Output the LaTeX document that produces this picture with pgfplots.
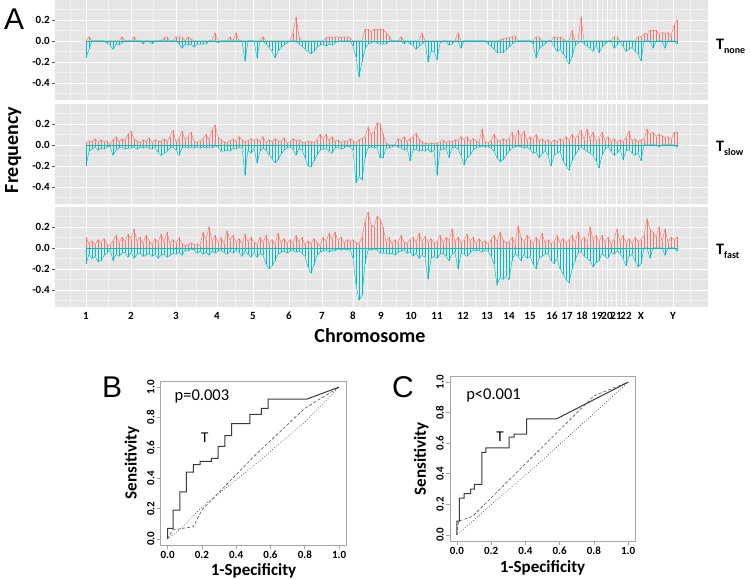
\documentclass[border=0pt]{standalone}
\usepackage{fontspec}
\setmainfont{Carlito}
\newfontfamily\arialfont{Liberation Sans}
\usepackage{pgfplots}
\usepackage{pgfplotstable}
\pgfplotsset{compat=1.18}

\definecolor{ggred}{HTML}{F8766D}
\definecolor{ggcyan}{HTML}{00BFC4}
\definecolor{ggbg}{HTML}{E5E5E5}
\definecolor{ggminor}{HTML}{F2F2F2}
\definecolor{ggtick}{HTML}{555555}
\definecolor{rocline}{HTML}{3A3A3A}

% x = position along the genome (plot units), then gain/loss frequency
% for Tnone (np/nn), Tslow (sp/sn), Tfast (fp/fn)
\pgfplotstableread{
x np nn sp sn fp fn
86 0 -0.16 0.02 -0.20 0.10 -0.15
89 0.04 -0.08 0.04 -0.06 0.04 -0.06
92 0 0 0.03 -0.04 0.07 -0.10
95 0 0 0.06 -0.02 0.03 -0.08
98 0 0 0.02 -0.05 0.08 -0.13
101 0 0 0.05 -0.03 0.05 -0.12
104 0 0 0.03 -0.04 0.09 -0.07
107 0 -0.02 0.04 -0.02 0.03 -0.05
110 0 -0.04 0 -0.01 0.02 -0.01
113 0 -0.08 0.05 -0.10 0.07 -0.12
116 0 -0.03 0.08 -0.05 0.12 -0.06
119 0 -0.04 0.03 -0.03 0.05 -0.08
122 0.04 -0.02 0.06 -0.02 0.10 -0.05
125 0 0 0.04 -0.04 0.06 -0.04
128 0 0 0.10 -0.03 0.13 -0.09
131 0 0 0.13 -0.03 0.09 -0.04
134 0.04 0 0.06 -0.02 0.18 -0.10
137 0 0 0.04 -0.04 0.06 -0.06
140 0 0 0.02 -0.02 0.10 -0.05
143 0 -0.03 0.05 -0.03 0.04 -0.08
146 0 0 0.03 -0.02 0.12 -0.07
149 0 0 0.07 -0.03 0.07 -0.05
152 0 -0.03 0.02 -0.04 0.03 -0.08
155 0 0 0.05 -0.02 0.09 -0.06
158 0 0 0.04 -0.07 0.05 -0.10
161 0 0 0.03 -0.10 0.13 -0.07
164 0.03 0 0.06 -0.08 0.06 -0.06
167 0.04 0 0.03 -0.06 0.15 -0.09
170 0 0 0.08 -0.03 0.04 -0.07
173 0 0 0.14 -0.02 0.08 -0.05
176 0.04 0 0.03 -0.05 0.05 -0.06
179 0.04 -0.03 0.06 -0.10 0.10 -0.04
182 0.04 -0.07 0.13 -0.03 0.04 -0.07
185 0 -0.03 0.05 -0.02 0.02 -0.02
188 0.04 -0.04 0.08 -0.03 0.03 -0.03
191 0.02 -0.03 0.12 -0.02 0.05 -0.01
194 0 -0.06 0.04 -0.03 0.03 -0.02
197 0 -0.03 0.02 -0.02 0.04 -0.05
200 0 -0.03 0.04 -0.03 0.02 -0.03
203 0 -0.03 0.06 -0.02 0.15 -0.06
206 0 -0.03 0.10 -0.03 0.08 -0.04
209 0 0 0.05 -0.02 0.20 -0.07
212 0 0 0.14 -0.03 0.06 -0.03
215 0.08 0 0.19 -0.01 0.12 -0.05
218 0 -0.02 0.08 -0.02 0.05 -0.03
221 0 0 0.05 -0.06 0.10 -0.02
224 0 0 0.03 -0.06 0.04 -0.04
227 0 0 0.02 -0.05 0.16 -0.06
230 0.04 0 0.04 -0.06 0.07 -0.03
233 0 0 0.06 -0.03 0.12 -0.05
236 0.08 0 0.03 -0.04 0.05 -0.02
239 0 0 0.08 -0.02 0.09 -0.04
242 0 0 0.05 -0.03 0.04 -0.08
245 0 -0.19 0.03 -0.29 0.13 -0.03
248 0 0 0.04 -0.05 0.06 -0.06
251 0 0 0.06 -0.08 0.10 -0.09
254 0 0 0.04 -0.03 0.06 -0.04
257 0 -0.16 0.06 -0.17 0.03 -0.09
260 0 0 0.03 -0.06 0.10 -0.05
263 0.04 0 0.08 -0.03 0.05 -0.07
266 0 -0.03 0.02 -0.05 0.12 -0.15
269 0 -0.06 0.05 -0.09 0.04 -0.20
272 0 -0.10 0.03 -0.13 0.08 -0.17
275 0 -0.16 0.06 -0.17 0.03 -0.12
278 0 -0.10 0.04 -0.14 0.14 -0.06
281 0 -0.06 0.03 -0.09 0.05 -0.04
284 0 -0.04 0.07 -0.05 0.09 -0.03
287 0 -0.02 0.02 -0.03 0.04 -0.05
290 0 0 0.03 -0.02 0.08 -0.03
293 0.08 0 0.06 -0.04 0.04 -0.02
296 0.23 0 0.04 -0.10 0.12 -0.04
299 0.04 -0.03 0.05 -0.03 0.06 -0.03
302 0 -0.05 0.03 -0.05 0.10 -0.05
305 0 -0.08 0.02 -0.12 0.03 -0.08
308 0 -0.10 0.04 -0.20 0.07 -0.18
311 0 -0.12 0.03 -0.21 0.04 -0.24
314 0 -0.10 0.02 -0.15 0.09 -0.16
317 0 -0.06 0.05 -0.10 0.05 -0.07
320 0 -0.04 0.10 -0.05 0.02 -0.04
323 0 -0.03 0.06 -0.04 0.10 -0.03
326 0.03 -0.05 0.10 -0.03 0.06 -0.02
329 0.04 -0.03 0.04 -0.06 0.14 -0.04
332 0.03 -0.04 0.08 -0.08 0.08 -0.02
335 0.04 -0.02 0.03 -0.03 0.15 -0.03
338 0.04 0 0.05 -0.02 0.07 -0.01
341 0.03 0 0.02 -0.04 0.10 -0.02
344 0.04 0 0.04 -0.03 0.05 -0.01
347 0.04 0 0.03 -0.01 0.08 -0.02
350 0.03 0 0.06 -0.02 0.06 -0.01
353 0 -0.05 0.04 -0.05 0.08 -0.10
356 0 -0.15 0.02 -0.36 0.05 -0.35
359 0 -0.34 0.05 -0.30 0.04 -0.50
362 0 -0.20 0.06 -0.33 0.10 -0.45
365 0.11 -0.08 0.08 -0.12 0.25 -0.15
368 0.11 -0.03 0.17 -0.03 0.34 -0.02
371 0.09 -0.02 0.10 -0.02 0.22 -0.02
374 0.11 0 0.12 -0.03 0.20 -0.01
377 0.11 -0.02 0.21 -0.02 0.30 -0.02
380 0.11 -0.03 0.20 -0.12 0.28 -0.05
383 0.11 -0.03 0.10 -0.12 0.20 -0.05
386 0.08 -0.03 0.02 -0.03 0.06 -0.05
389 0.05 0 0 -0.03 0.10 -0.06
392 0 0 0 -0.02 0.04 -0.05
395 0 0 0 0 0.08 -0.07
398 0 0 0.06 -0.02 0.05 -0.04
401 0.04 0 0.04 -0.03 0.12 -0.03
404 0 -0.03 0.08 -0.05 0.06 -0.02
407 0 0 0.03 -0.03 0.04 -0.05
410 0 -0.03 0.06 -0.15 0.08 -0.04
413 0 -0.04 0.08 -0.05 0.10 -0.08
416 0 -0.08 0.11 -0.04 0.05 -0.05
419 0 -0.05 0.06 -0.06 0.14 -0.10
422 0.08 -0.03 0.03 -0.05 0.06 -0.07
425 0 0 0.02 -0.06 0.11 -0.09
428 0 -0.20 0.01 -0.04 0.05 -0.30
431 0 -0.10 0.02 -0.07 0.09 -0.10
434 0 -0.10 0.01 -0.05 0.04 -0.08
437 0 -0.18 0.02 -0.29 0.06 -0.10
440 0 -0.02 0.03 -0.05 0.12 -0.06
443 0 0 0.05 -0.04 0.05 -0.05
446 0 0 0.02 -0.03 0.10 -0.08
449 0 -0.04 0.04 -0.12 0.07 -0.12
452 0 -0.03 0.03 -0.03 0.18 -0.06
455 0 0 0.05 -0.02 0.06 -0.04
458 0.08 0 0.04 -0.04 0.10 -0.20
461 0 -0.07 0.08 -0.10 0.05 -0.05
464 0 0 0.05 -0.19 0.08 -0.06
467 0 0 0.08 -0.12 0.13 -0.08
470 0 0 0.03 -0.10 0.06 -0.05
473 0 0 0.06 -0.05 0.10 -0.02
476 0 0 0.04 -0.03 0.04 -0.03
479 0 0 0.02 -0.02 0.09 -0.02
482 0 0 0.15 -0.01 0.05 -0.04
485 0 0 0.03 -0.02 0.07 -0.02
488 0 -0.03 0.02 -0.02 0.04 -0.03
491 0 -0.05 0.04 -0.03 0.08 -0.08
494 0 -0.08 0.10 -0.06 0.12 -0.15
497 0 -0.11 0.05 -0.12 0.06 -0.35
500 0.01 -0.11 0.03 -0.16 0.15 -0.28
503 0.02 -0.11 0.06 -0.14 0.08 -0.30
506 0.03 -0.09 0.04 -0.10 0.05 -0.27
509 0.03 -0.06 0.06 -0.06 0.06 -0.30
512 0.04 -0.03 0.12 -0.03 0.10 -0.12
515 0.05 -0.01 0.05 -0.02 0.04 -0.05
518 0 0 0.14 -0.01 0.21 -0.08
521 0 0 0.08 -0.02 0.10 -0.12
524 0 0 0.13 -0.03 0.06 -0.06
527 0 0 0.04 -0.02 0.12 -0.10
530 0 0 0.08 -0.04 0.08 -0.08
533 0 -0.03 0.05 -0.08 0.04 -0.15
536 0.04 -0.16 0.10 -0.07 0.10 -0.20
539 0.04 -0.08 0.04 -0.12 0.06 -0.10
542 0 -0.05 0.06 -0.09 0.14 -0.08
545 0 -0.03 0.03 -0.05 0.05 -0.06
548 0 0 0.05 -0.10 0.08 -0.05
551 0 0 0.02 -0.20 0.04 -0.12
554 0.04 -0.05 0.05 -0.10 0.06 -0.15
557 0.03 -0.10 0.03 -0.08 0.12 -0.10
560 0.04 -0.08 0.06 -0.06 0.05 -0.20
563 0.02 -0.12 0.04 -0.15 0.09 -0.25
566 0 -0.16 0.08 -0.20 0.05 -0.30
569 0 -0.22 0.04 -0.24 0.08 -0.33
572 0.10 -0.15 0.10 -0.15 0.12 -0.20
575 0 -0.05 0.06 -0.10 0.05 -0.12
578 0 -0.02 0.09 -0.05 0.15 -0.05
581 0.23 0 0.14 -0.02 0.06 -0.03
584 0 -0.03 0.05 -0.04 0.10 -0.08
587 0 -0.05 0.15 -0.06 0.05 -0.10
590 0 -0.07 0.06 -0.08 0.20 -0.12
593 0 -0.10 0.12 -0.10 0.08 -0.18
596 0 -0.04 0.04 -0.15 0.12 -0.14
599 0 -0.11 0.06 -0.22 0.06 -0.12
602 0 -0.06 0.12 -0.10 0.12 -0.05
605 0 -0.03 0.04 -0.04 0.05 -0.08
608 0 0 0.08 -0.02 0.10 -0.10
611 0 0 0.03 -0.06 0.04 -0.04
614 0.04 -0.07 0.06 -0.10 0.08 -0.06
617 0.04 -0.04 0.02 -0.08 0.18 -0.03
620 0 0 0.05 -0.04 0.06 -0.05
623 0 -0.05 0.03 -0.14 0.12 -0.10
626 0 -0.10 0.07 -0.06 0.05 -0.17
629 0 -0.08 0.13 -0.04 0.09 -0.08
632 0 -0.06 0.04 -0.08 0.04 -0.06
635 0 -0.10 0.06 -0.10 0.10 -0.12
638 0.04 -0.12 0.03 -0.07 0.06 -0.18
641 0.04 -0.19 0.05 -0.15 0.08 -0.15
644 0.07 0 0.05 0 0.12 0
647 0.07 0 0.15 0 0.28 0
650 0.10 0 0.10 0 0.18 -0.10
653 0.10 -0.07 0.12 0 0.15 0
656 0.10 0 0.08 0 0.10 0
659 0.07 0 0.10 -0.02 0.20 0
662 0.08 0 0.09 0 0.06 0
665 0.07 -0.07 0.07 0 0.18 -0.07
668 0.08 0 0.08 0 0.05 0
671 0.05 0 0.05 0 0.10 0
674 0.15 0 0.12 0 0.08 0
677 0.20 -0.03 0.12 -0.02 0.10 -0.03
}\cnv

\pgfplotsset{
  cnv/.style={
    scale only axis, width=653pt, height=100pt,
    xmin=55, xmax=708, ymin=-0.562, ymax=0.39,
    axis background/.style={fill=ggbg},
    axis line style={draw=none},
    xtick={86,131,176,217,253,289,322,353,381,411,437,463,487,509,530,552,567,582,597,607,616,626,641,673},
    minor xtick={70,108,153,196,235,271,305,337,367,396,424,450,475,498,519,541,559,574,590,602,611,621,633,657,690},
    ytick={-0.4,-0.2,0,0.2},
    yticklabels={-0.4,-0.2,0.0,0.2},
    minor ytick={-0.5,-0.3,-0.1,0.1,0.3},
    grid=both,
    major grid style={white, line width=0.9pt},
    minor grid style={ggminor, line width=0.5pt},
    tick align=outside, ytick pos=left,
    major tick length=3.5pt, minor tick length=0pt,
    y tick style={draw=ggtick, line width=0.7pt},
    x tick style={draw=none},
    ticklabel style={font=\bfseries\fontsize{11}{12}\selectfont},
    yticklabel style={inner sep=1.5pt},
    xticklabels={},
  },
  roc/.style={
    scale only axis,
    xmin=-0.04, xmax=1.04, ymin=-0.04, ymax=1.04,
    axis line style={draw=gray!70, line width=0.8pt},
    xtick={0,0.2,0.4,0.6,0.8,1}, ytick={0,0.2,0.4,0.6,0.8,1},
    xticklabels={0.0,0.2,0.4,0.6,0.8,1.0},
    yticklabels={0.0,0.2,0.4,0.6,0.8,1.0},
    tick align=outside, xtick pos=bottom, ytick pos=left,
    major tick length=4pt,
    tick style={draw=gray!70, line width=0.7pt},
    ticklabel style={font=\bfseries\fontsize{11}{12}\selectfont},
    xticklabel style={inner sep=2pt},
    yticklabel style={rotate=90, anchor=south, inner sep=2pt},
  },
}

\newcommand{\cnvplots}[2]{%
  \addplot[ggred, ycomb, line width=0.75pt] table[x=x, y=#1]{\cnv};
  \addplot[ggred, sharp plot, line width=0.45pt] table[x=x, y=#1]{\cnv};
  \addplot[ggcyan, ycomb, line width=0.75pt] table[x=x, y=#2]{\cnv};
  \addplot[ggcyan, sharp plot, line width=0.45pt] table[x=x, y=#2]{\cnv};
  \addplot[ggcyan, line width=0.6pt] coordinates {(86,0) (677,0)};
}

\begin{document}
\begin{tikzpicture}[x=1pt, y=1pt]
\useasboundingbox (0,0) rectangle (750,579);

% ---- panel A ----
\begin{axis}[cnv, at={(55pt,479pt)}, anchor=south west]
\cnvplots{np}{nn}
\end{axis}
\begin{axis}[cnv, at={(55pt,375pt)}, anchor=south west]
\cnvplots{sp}{sn}
\end{axis}
\begin{axis}[cnv, at={(55pt,272pt)}, anchor=south west,
  xticklabels={1,2,3,4,5,6,7,8,9,10,11,12,13,14,15,16,17,18,19,20,21,22,X,Y},
  xticklabel style={inner sep=1.5pt}]
\cnvplots{fp}{fn}
\end{axis}

\node[anchor=base, font=\bfseries\fontsize{20}{22}\selectfont] at (370,236) {Chromosome};
\node[anchor=base, rotate=90, font=\bfseries\fontsize{20}{22}\selectfont] at (18,429) {Frequency};
\node[anchor=base west, inner sep=0pt, font=\bfseries\fontsize{16}{18}\selectfont] at (716,529) {T\raisebox{-3.5pt}{\fontsize{10}{11}\selectfont none}};
\node[anchor=base west, inner sep=0pt, font=\bfseries\fontsize{16}{18}\selectfont] at (716,427) {T\raisebox{-3.5pt}{\fontsize{10}{11}\selectfont slow}};
\node[anchor=base west, inner sep=0pt, font=\bfseries\fontsize{16}{18}\selectfont] at (716,324) {T\raisebox{-3.5pt}{\fontsize{10}{11}\selectfont fast}};
\node[anchor=base west, inner sep=0pt, font=\arialfont\fontsize{30}{32}\selectfont] at (4,549) {A};

% ---- panel B ----
\begin{axis}[roc, width=185.3pt, height=164pt, at={(160.7pt,34pt)}, anchor=south west]
\addplot[rocline, line width=1pt] coordinates {
 (0,0) (0,0.07) (0.033,0.07) (0.033,0.19) (0.072,0.19) (0.072,0.31)
 (0.11,0.31) (0.11,0.44) (0.15,0.44) (0.15,0.49) (0.19,0.49) (0.19,0.51)
 (0.256,0.51) (0.256,0.53) (0.295,0.53) (0.295,0.61) (0.334,0.61) (0.334,0.68)
 (0.373,0.68) (0.373,0.76) (0.48,0.76) (0.48,0.82) (0.547,0.82) (0.547,0.86)
 (0.586,0.86) (0.586,0.92) (0.81,0.92) (1,1)};
\addplot[gray!60!black, dash pattern=on 3pt off 2pt, line width=0.6pt] coordinates {
 (0,0) (0.03,0.06) (0.15,0.08) (0.2,0.19) (0.5,0.54) (0.8,0.86) (1,1)};
\addplot[gray!60!black, dotted, line width=0.7pt] coordinates {
 (0,0) (0.07,0.06) (0.2,0.21) (0.5,0.48) (0.8,0.77) (1,1)};
\node[font=\fontsize{16.5}{18}\selectfont] at (axis cs:0.2,0.935) {p=0.003};
\node[font=\fontsize{15}{16}\selectfont] at (axis cs:0.217,0.667) {T};
\end{axis}
\node[anchor=base, rotate=90, font=\bfseries\fontsize{17}{19}\selectfont] at (136.5,116) {Sensitivity};
\node[anchor=base, font=\bfseries\fontsize{17}{19}\selectfont] at (253.5,3.5) {1-Specificity};
\node[anchor=base west, inner sep=0pt, font=\arialfont\fontsize{30}{32}\selectfont] at (102,181) {B};

% ---- panel C ----
\begin{axis}[roc, width=185pt, height=165pt, at={(450pt,38pt)}, anchor=south west]
\addplot[rocline, line width=1pt] coordinates {
 (0,0) (0,0.09) (0.014,0.09) (0.014,0.24) (0.043,0.24) (0.043,0.27)
 (0.081,0.27) (0.081,0.30) (0.103,0.30) (0.103,0.33) (0.146,0.33) (0.146,0.54)
 (0.169,0.54) (0.169,0.57) (0.305,0.57) (0.305,0.64) (0.334,0.64) (0.334,0.66)
 (0.408,0.66) (0.408,0.76) (0.583,0.76) (1,1)};
\addplot[gray!60!black, dash pattern=on 3pt off 2pt, line width=0.6pt] coordinates {
 (0,0) (0.01,0.09) (0.09,0.12) (0.45,0.52) (0.8,0.91) (1,1)};
\addplot[gray!60!black, dotted, line width=0.7pt] coordinates {
 (0,0) (0.5,0.49) (1,1)};
\node[font=\fontsize{16.5}{18}\selectfont] at (axis cs:0.214,0.91) {p<0.001};
\node[font=\fontsize{15}{16}\selectfont] at (axis cs:0.252,0.64) {T};
\end{axis}
\node[anchor=base, rotate=90, font=\bfseries\fontsize{17}{19}\selectfont] at (425.8,120) {Sensitivity};
\node[anchor=base, font=\bfseries\fontsize{17}{19}\selectfont] at (542.5,7) {1-Specificity};
\node[anchor=base west, inner sep=0pt, font=\arialfont\fontsize{30}{32}\selectfont] at (392,181) {C};
\end{tikzpicture}
\end{document}
